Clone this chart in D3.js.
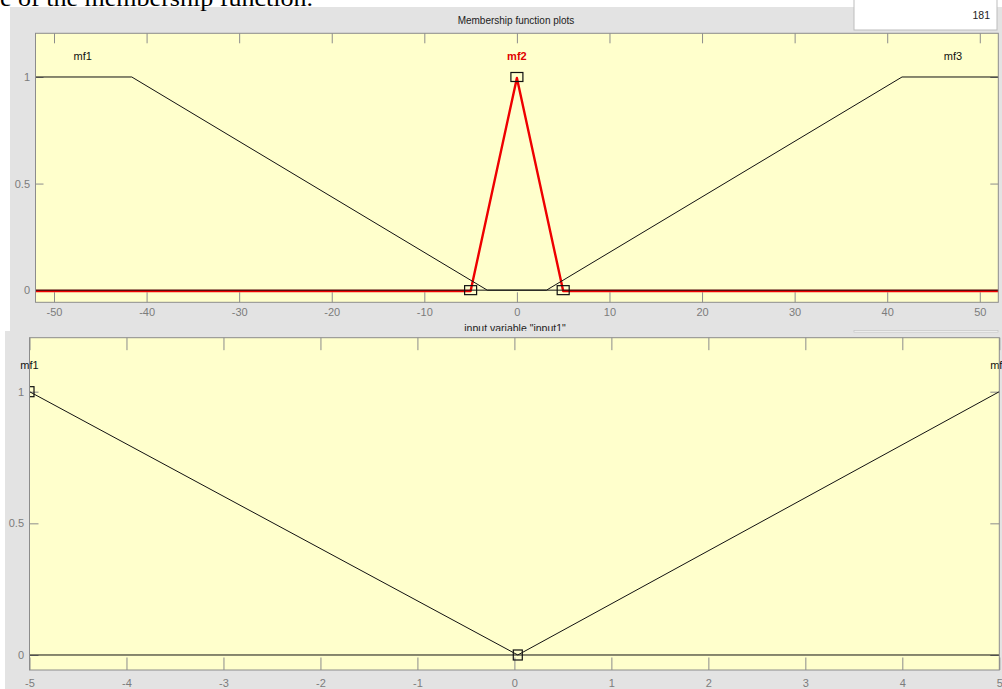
<!DOCTYPE html>
<html>
<head>
<meta charset="utf-8">
<script src="https://cdn.jsdelivr.net/npm/d3@7"></script>
<style>
  html, body { margin: 0; padding: 0; background: #fff; overflow: hidden; }
  svg { display: block; }
</style>
</head>
<body>
<script>
// ---- input variable "input1": three membership functions ----
const inputDomain = [-52, 52];
const inputTicks = [-50, -40, -30, -20, -10, 0, 10, 20, 30, 40, 50];
const inputNames = ["mf1", "mf2", "mf3"];
const inMf1X = [-52, -41.6, -3.2, 52];
const inMf1Y = [1, 1, 0, 0];
const inMf2X = [-52, -5, 0, 5, 52];
const inMf2Y = [0, 0, 1, 0, 0];
const inMf3X = [-52, 3.2, 41.6, 52];
const inMf3Y = [0, 0, 1, 1];
const inSelectedX = [-5, 0, 5];      // vertices of the selected function (mf2)
const inSelectedY = [0, 1, 0];
const inLabelX = [-46.9, 0, 47.1];

// ---- second variable: two membership functions ----
const outDomain = [-5, 5];
const outTicks = [-5, -4, -3, -2, -1, 0, 1, 2, 3, 4, 5];
const outNames = ["mf1", "mf2"];
const outMf1X = [-5, 0.035, 5];
const outMf1Y = [1, 0, 0];
const outMf2X = [-5, 0.035, 5];
const outMf2Y = [0, 0, 1];
const outSelectedX = [-5, 0.035];
const outSelectedY = [1, 0];
const outLabelX = [-5, 5];

// shared
const yTicks = [0, 0.5, 1];
const yDomain = [-0.057, 1.205];
const labelLevel = 1.1;
const pointCount = "181";

const W = 1002, H = 689;
const FONT = "'Liberation Sans', Arial, sans-serif";
const PLOT_BG = "#ffffcc";
const PANEL_BG = "#e3e3e3";
const AXIS_GRAY = "#8c8c8c";
const LABEL_GRAY = "#7c7c7c";

const svg = d3.select("body").append("svg")
  .attr("width", W).attr("height", H)
  .attr("viewBox", `0 0 ${W} ${H}`);

svg.append("rect").attr("width", W).attr("height", H).attr("fill", "#fff");

// ---- upper window ----
svg.append("rect").attr("x", 10).attr("y", 7).attr("width", W - 10).attr("height", 324)
  .attr("fill", PANEL_BG);

// caption line of the surrounding document (only its lower part is in view)
svg.append("text").attr("x", 0).attr("y", 5.5)
  .attr("font-family", "'Liberation Serif', 'Times New Roman', serif")
  .attr("font-size", 23).attr("fill", "#000")
  .attr("textLength", 313).attr("lengthAdjust", "spacingAndGlyphs")
  .text("e of the membership function.");

// point-count box
svg.append("rect").attr("x", 854).attr("y", -1).attr("width", 143).attr("height", 31)
  .attr("fill", "#fff").attr("stroke", "#bdbdbd").attr("stroke-width", 1);
svg.append("text").attr("x", 990).attr("y", 18.5).attr("text-anchor", "end")
  .attr("font-family", FONT).attr("font-size", 10.5).attr("fill", "#222")
  .text(pointCount);

svg.append("text").attr("x", 516).attr("y", 23.5).attr("text-anchor", "middle")
  .attr("font-family", FONT).attr("font-size", 10).attr("fill", "#222")
  .text("Membership function plots");

// axis label, partly hidden by the lower window
svg.append("text").attr("x", 515).attr("y", 332).attr("text-anchor", "middle")
  .attr("font-family", FONT).attr("font-size", 10.5).attr("fill", "#222")
  .text('input variable "input1"');

function drawPlot(cfg) {
  const { left, right, top, bottom, xDomain, xTicks, tickLen, yTickLen } = cfg;
  const x = d3.scaleLinear().domain(xDomain).range([left, right]);
  const y = d3.scaleLinear().domain(yDomain).range([bottom, top]);
  const g = svg.append("g");

  g.append("rect").attr("x", left).attr("y", top)
    .attr("width", right - left).attr("height", bottom - top).attr("fill", PLOT_BG);

  const clipId = "clip" + cfg.id;
  svg.append("clipPath").attr("id", clipId).append("rect")
    .attr("x", left).attr("y", top).attr("width", right - left).attr("height", bottom - top);

  // ticks
  const styleAxis = sel => {
    sel.select(".domain").remove();
    sel.selectAll(".tick line").attr("stroke", AXIS_GRAY);
    sel.selectAll(".tick text").attr("fill", LABEL_GRAY)
      .attr("font-family", FONT).attr("font-size", 11);
  };
  g.append("g").attr("transform", `translate(0,${bottom})`)
    .call(d3.axisBottom(x).tickValues(xTicks).tickSize(-tickLen).tickSizeOuter(0)
      .tickPadding(cfg.xLabelPad).tickFormat(d => String(d)))
    .call(styleAxis);
  g.append("g").attr("transform", `translate(0,${top})`)
    .call(d3.axisTop(x).tickValues(xTicks).tickSize(-tickLen).tickSizeOuter(0).tickFormat(""))
    .call(styleAxis);
  g.append("g").attr("transform", `translate(${left},0)`)
    .call(d3.axisLeft(y).tickValues(yTicks).tickSize(-yTickLen).tickSizeOuter(0)
      .tickPadding(5.5).tickFormat(d => String(d)))
    .call(styleAxis);
  g.append("g").attr("transform", `translate(${right},0)`)
    .call(d3.axisRight(y).tickValues(yTicks).tickSize(-yTickLen).tickSizeOuter(0).tickFormat(""))
    .call(styleAxis);

  const line = d3.line().x(d => x(d[0])).y(d => y(d[1]));
  const curves = g.append("g").attr("clip-path", `url(#${clipId})`);

  cfg.curves.forEach(c => {
    const pts = c.xs.map((v, i) => [v, c.ys[i]]);
    curves.append("path").attr("d", line(pts))
      .attr("fill", "none").attr("stroke", c.color).attr("stroke-width", c.width)
      .attr("stroke-linejoin", "round")
      .attr("transform", c.shift ? `translate(0,${c.shift})` : null);
  });

  // vertex markers of the selected function
  const [mw, mh] = cfg.markerSize;
  curves.selectAll("rect.marker")
    .data(cfg.selX.map((v, i) => [v, cfg.selY[i]]))
    .join("rect").attr("class", "marker")
    .attr("x", d => x(d[0]) - mw / 2).attr("y", d => y(d[1]) - mh / 2)
    .attr("width", mw).attr("height", mh)
    .attr("fill", "none").attr("stroke", "#111").attr("stroke-width", 1.2);

  // function names
  g.selectAll("text.mfname")
    .data(cfg.names.map((n, i) => ({ n, xv: cfg.labelX[i], sel: i === cfg.selectedIndex })))
    .join("text").attr("class", "mfname")
    .attr("x", d => x(d.xv)).attr("y", y(labelLevel))
    .attr("dy", "0.35em").attr("text-anchor", "middle")
    .attr("font-family", FONT).attr("font-size", 11)
    .attr("font-weight", d => d.sel ? "bold" : "normal")
    .attr("fill", d => d.sel ? "#e00000" : "#111")
    .text(d => d.n);

  // frame
  g.append("rect").attr("x", left).attr("y", top)
    .attr("width", right - left).attr("height", bottom - top)
    .attr("fill", "none").attr("stroke", AXIS_GRAY).attr("stroke-width", 1);
}

drawPlot({
  id: "in", left: 35.5, right: 998.3, top: 33.3, bottom: 302.3,
  xDomain: inputDomain, xTicks: inputTicks, tickLen: 10, yTickLen: 8, xLabelPad: 5.4,
  curves: [
    { xs: inMf2X, ys: inMf2Y, color: "#ee0000", width: 2.4, shift: 0.9 },
    { xs: inMf1X, ys: inMf1Y, color: "#111", width: 1 },
    { xs: inMf3X, ys: inMf3Y, color: "#111", width: 1 }
  ],
  selX: inSelectedX, selY: inSelectedY, markerSize: [12, 9],
  names: inputNames, labelX: inLabelX, selectedIndex: 1
});

// ---- lower window ----
svg.append("rect").attr("x", 5).attr("y", 331).attr("width", W - 5).attr("height", H - 331)
  .attr("fill", PANEL_BG);
svg.append("rect").attr("x", 854).attr("y", 330.5).attr("width", 144).attr("height", 1.6)
  .attr("fill", "#fafafa").attr("stroke", "#c4c4c4").attr("stroke-width", 0.7);

drawPlot({
  id: "out", left: 29.5, right: 999.3, top: 337.7, bottom: 670,
  xDomain: outDomain, xTicks: outTicks, tickLen: 12.5, yTickLen: 9, xLabelPad: 9,
  curves: [
    { xs: outMf1X, ys: outMf1Y, color: "#111", width: 1 },
    { xs: outMf2X, ys: outMf2Y, color: "#111", width: 1 }
  ],
  selX: outSelectedX, selY: outSelectedY, markerSize: [9, 10],
  names: outNames, labelX: outLabelX, selectedIndex: -1
});
</script>
</body>
</html>
